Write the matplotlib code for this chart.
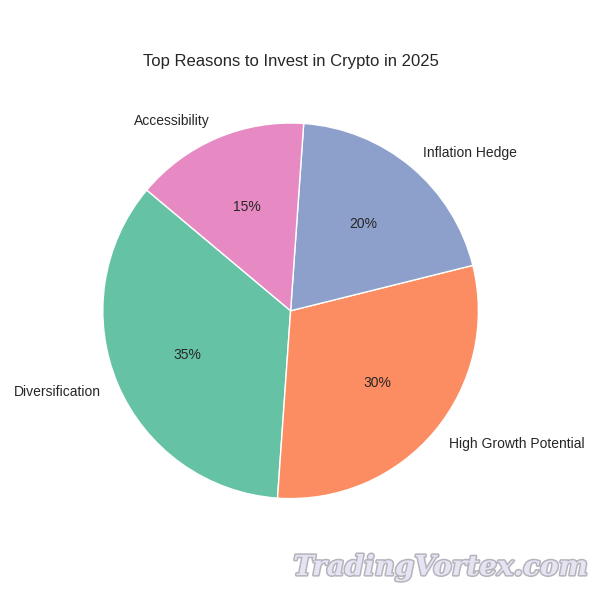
import matplotlib
matplotlib.use("Agg")
import matplotlib.pyplot as plt
import matplotlib.patheffects as pe
import seaborn as sns

sns.set_theme(style="whitegrid")
plt.rcParams['font.family'] = ['Liberation Sans', 'DejaVu Sans']

labels = ["Diversification", "High Growth Potential", "Inflation Hedge", "Accessibility"]
values = [35, 30, 20, 15]
colors = sns.color_palette("Set2", 4)

fig = plt.figure(figsize=(6, 6), dpi=100)
ax = fig.add_axes([0.0, 0.0, 1.0, 1.0])
ax.pie(values, labels=labels, colors=colors, autopct="%1.0f%%", startangle=140,
       textprops={"fontsize": 10, "color": "#262626"}, radius=1.0)
ax.set_aspect("equal")
ax.set_xlim(-1.545, 1.645)
ax.set_ylim(-1.54, 1.655)
fig.text(0.485, 0.897, "Top Reasons to Invest in Crypto in 2025", ha="center", va="center",
         fontsize=12, color="#262626")

wm = fig.text(0.734, 0.054, "TradingVortex.com", ha="center", va="center", fontsize=20,
              family="DejaVu Serif", style="italic", weight="bold", color="#e6e4f2")
wm.set_path_effects([pe.Stroke(linewidth=2.2, foreground="#b4b4bc"), pe.Normal()])

fig.savefig("out.png", dpi=100, facecolor="white")
